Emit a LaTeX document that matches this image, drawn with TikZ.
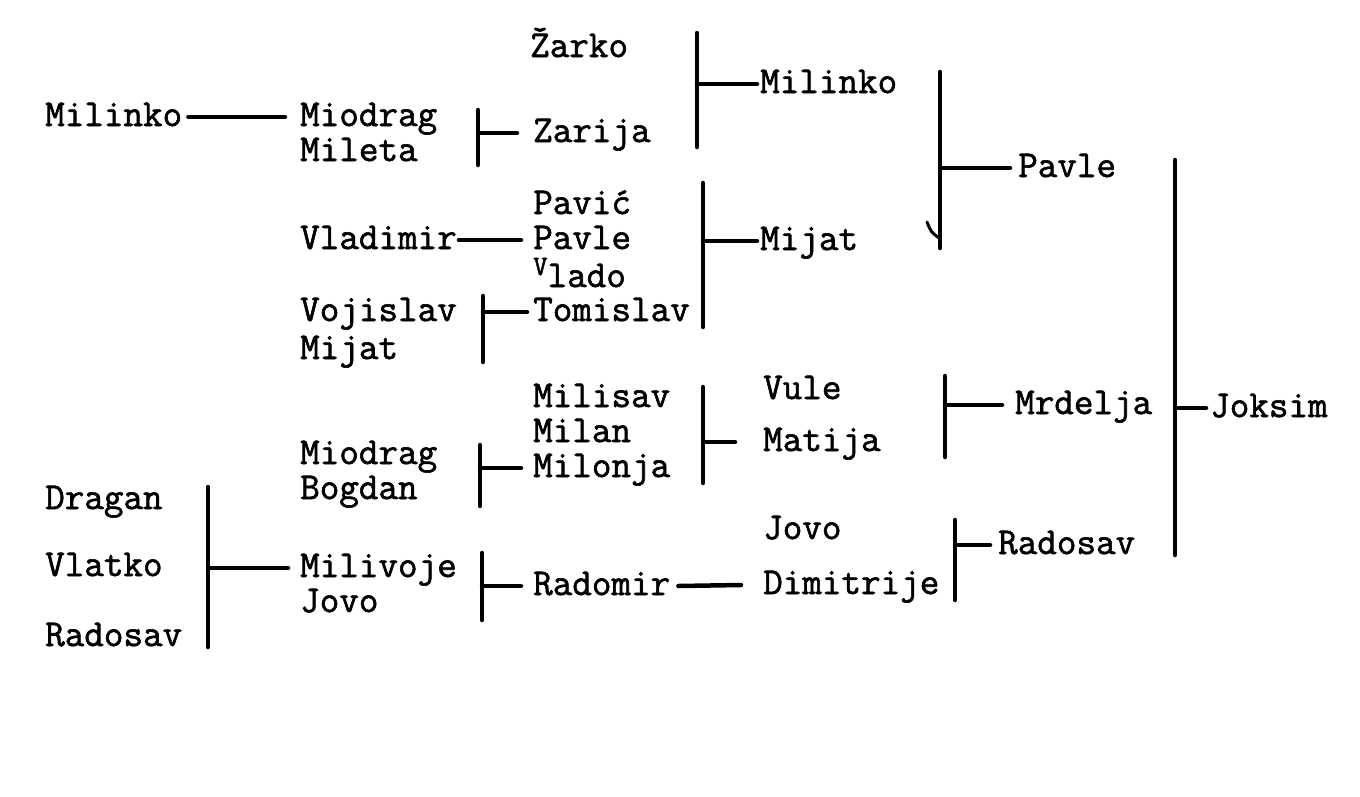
\documentclass[tikz,border=0pt]{standalone}
\usepackage{fontspec}
\newfontfamily\tw{Latin Modern Mono}[FakeBold=1.6]
\begin{document}
\begin{tikzpicture}[x=1pt,y=-1pt,
  nm/.style={anchor=west,inner sep=0pt,font=\tw\fontsize{38}{44}\selectfont,text height=22pt,text depth=4pt},
  bar/.style={line width=4.5pt,line cap=round},
  link/.style={line width=4.5pt,line cap=round}]
\useasboundingbox[fill=white] (0,0) rectangle (1360,796);
% names
\node[nm] (zarko) at (530,48) {Žarko};
\node[nm] (milinkoB) at (760,84) {Milinko};
\node[nm] (milinkoA) at (45,117) {Milinko};
\node[nm] (miodragA) at (300,117) {Miodrag};
\node[nm] (mileta) at (300,152) {Mileta};
\node[nm] (zarija) at (533,133) {Zarija};
\node[nm] (pavleA) at (1018,168) {Pavle};
\node[nm] (pavic) at (533,205) {Pavić};
\node[nm] (pavleB) at (533,240) {Pavle};
\node[nm] (vlado) at (533,278) {\raisebox{12pt}{\fontsize{28}{30}\selectfont V}lado};
\node[nm] (vladimir) at (300,240) {Vladimir};
\node[nm] (mijatA) at (760,241) {Mijat};
\node[nm] (tomislav) at (533,312) {Tomislav};
\node[nm] (vojislav) at (300,312) {Vojislav};
\node[nm] (mijatB) at (300,350) {Mijat};
\node[nm] (joksim) at (1210,408) {Joksim};
\node[nm] (milisav) at (533,398) {Milisav};
\node[nm] (milan) at (533,433) {Milan};
\node[nm] (milonja) at (533,468) {Milonja};
\node[nm] (vule) at (763,390) {Vule};
\node[nm] (matija) at (763,442) {Matija};
\node[nm] (miodragB) at (300,455) {Miodrag};
\node[nm] (bogdan) at (300,490) {Bogdan};
\node[nm] (mrdelja) at (1015,405) {Mrdelja};
\node[nm] (jovoA) at (763,530) {Jovo};
\node[nm] (dimitrije) at (763,585) {Dimitrije};
\node[nm] (radosavA) at (998,545) {Radosav};
\node[nm] (radomir) at (533,586) {Radomir};
\node[nm] (milivoje) at (300,568) {Milivoje};
\node[nm] (jovoB) at (300,603) {Jovo};
\node[nm] (dragan) at (45,500) {Dragan};
\node[nm] (vlatko) at (45,567) {Vlatko};
\node[nm] (radosavB) at (45,637) {Radosav};
% bar ends
\coordinate (b1t) at (697,33);  \coordinate (b1b) at (697,147);
\coordinate (b2t) at (478,110); \coordinate (b2b) at (478,165);
\coordinate (b3t) at (940,72);  \coordinate (b3b) at (940,248);
\coordinate (b4t) at (703,183); \coordinate (b4b) at (703,327);
\coordinate (b5t) at (483,296); \coordinate (b5b) at (483,362);
\coordinate (b6t) at (1175,160);\coordinate (b6b) at (1175,555);
\coordinate (b7t) at (703,387); \coordinate (b7b) at (703,483);
\coordinate (b8t) at (480,445); \coordinate (b8b) at (480,506);
\coordinate (b9t) at (945,376); \coordinate (b9b) at (945,457);
\coordinate (b10t) at (955,520);\coordinate (b10b) at (955,600);
\coordinate (b11t) at (482,553);\coordinate (b11b) at (482,620);
\coordinate (b12t) at (208,487);\coordinate (b12b) at (208,647);
\foreach \i in {1,...,12} {\draw[bar] (b\i t) -- (b\i b);}
% hook on bar 3
\coordinate (hk) at (927,222);
\draw[line width=3pt,line cap=round] (hk) .. controls (931,232) .. (939,238);
% bracket stems
\draw[link] (b1t |- milinkoB.west) -- ([xshift=-3pt]milinkoB.west);
\draw[link] (b2t |- zarija.west) -- ([xshift=-16pt]zarija.west);
\draw[link] (b3t |- pavleA.west) -- ([xshift=-8pt]pavleA.west);
\draw[link] (b4t |- mijatA.west) -- ([xshift=-3pt]mijatA.west);
\draw[link] (b5t |- tomislav.west) -- ([xshift=-6pt]tomislav.west);
\draw[link] (b6t |- joksim.west) -- ([xshift=-4pt]joksim.west);
\draw[link] (b7t |- matija.west) -- ([xshift=-28pt]matija.west);
\draw[link] (b8t |- milonja.west) -- ([xshift=-12pt]milonja.west);
\draw[link] (b9t |- mrdelja.west) -- ([xshift=-13pt]mrdelja.west);
\draw[link] (b10t |- radosavA.west) -- ([xshift=-8pt]radosavA.west);
\draw[link] (b11t |- radomir.west) -- ([xshift=-12pt]radomir.west);
\draw[link] (b12t |- milivoje.west) -- ([xshift=-12pt]milivoje.west);
% straight links
\draw[link] ([xshift=6pt]milinkoA.east) -- ([xshift=-15pt]miodragA.west);
\draw[link] ([xshift=2pt]vladimir.east) -- ([xshift=-12pt]pavleB.west);
\draw[link] ([xshift=8pt]radomir.east) -- ([xshift=-22pt]dimitrije.west);
\end{tikzpicture}
\end{document}
